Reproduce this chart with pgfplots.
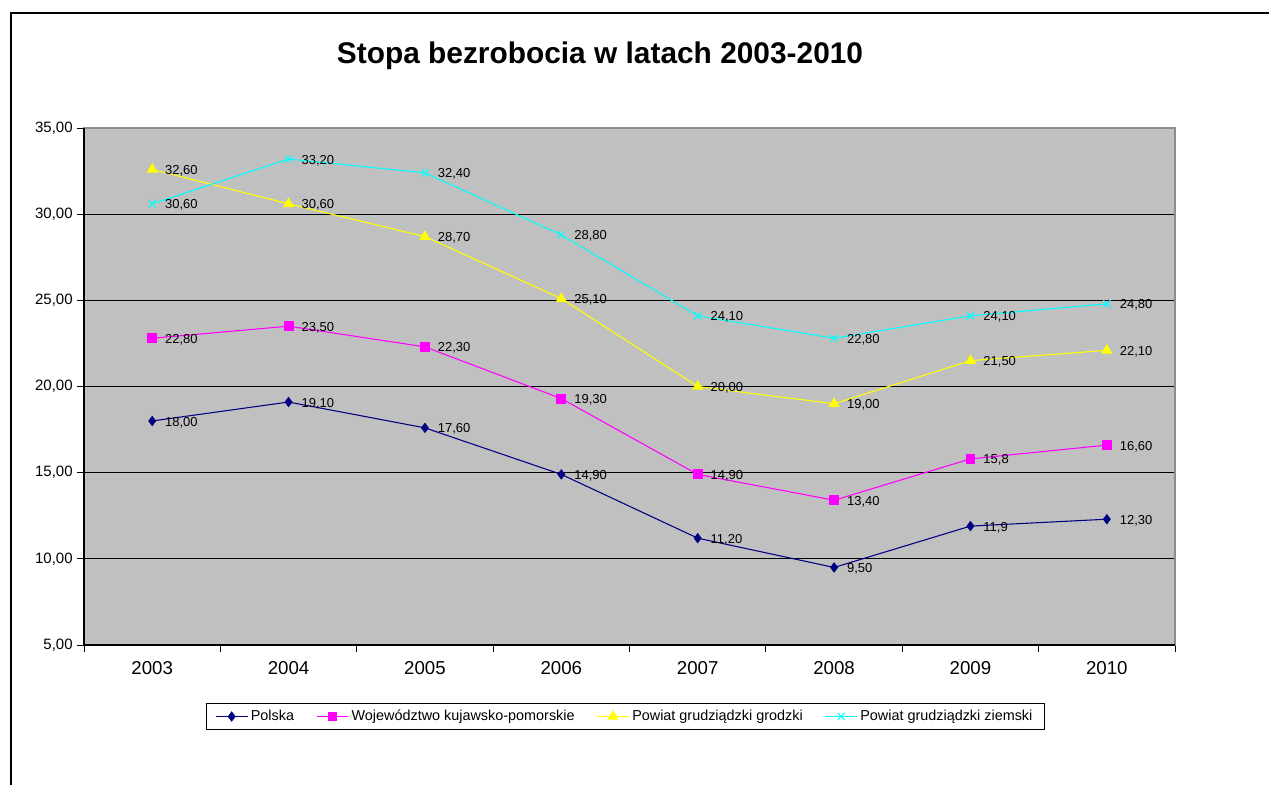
\documentclass[border=0pt]{standalone}
\usepackage{pgfplots}
\pgfplotsset{compat=1.18}
\usepackage{fontspec}
\setmainfont{Liberation Sans}
\definecolor{plotbg}{HTML}{C0C0C0}
\definecolor{cpol}{HTML}{000080}
\definecolor{cwoj}{HTML}{FF00FF}
\definecolor{cgro}{HTML}{FFFF00}
\definecolor{czie}{HTML}{00FFFF}
\begin{document}
\begin{tikzpicture}
\path[use as bounding box] (0,0) rectangle (951.75pt,-588.75pt);
\draw[line width=2.2pt] (8.25pt,-588.75pt) -- (8.25pt,-9.75pt) -- (951.75pt,-9.75pt);
\node[font=\fontsize{22.4}{26}\selectfont\bfseries] at (450pt,-41.5pt) {Stopa bezrobocia w latach 2003-2010};
\begin{axis}[
  at={(63pt,-483.75pt)}, anchor=south west,
  scale only axis, width=818.25pt, height=387.75pt,
  xmin=-0.5, xmax=7.5, ymin=5, ymax=35,
  axis background/.style={fill=plotbg},
  axis line style={draw=gray!90, line width=0.8pt},
  xtick={0,...,7},
  xticklabels={2003,2004,2005,2006,2007,2008,2009,2010},
  major x tick style={draw=none},
  minor xtick={-0.5,0.5,...,7.5},
  minor x tick style={black, line width=0.6pt},
  minor tick length=5pt,
  x tick label style={font=\fontsize{14}{16}\selectfont, yshift=-4pt},
  ytick={5,10,...,35},
  y tick label style={font=\fontsize{11.25}{13}\selectfont},
  yticklabel style={/pgf/number format/.cd, fixed, fixed zerofill, precision=2, use comma, assume math mode=true},
  y tick style={black, line width=0.6pt},
  major tick length=5pt,
  tick align=outside,
  xtick pos=bottom, ytick pos=left,
  ymajorgrids, grid style={black, line width=0.6pt},
  legend columns=4,
  legend style={at={(0.496,-0.1383)}, anchor=center, draw=black, line width=0.5pt,
    font=\fontsize{10.8}{13}\selectfont, inner ysep=3pt, inner xsep=7pt,
    /tikz/every even column/.append style={column sep=14.5pt}},
  legend image code/.code={\draw[mark repeat=2,mark phase=2] plot coordinates {(0cm,0cm) (0.42cm,0cm) (0.84cm,0cm)};},
  legend cell align=left,
  nodes near coords, point meta=explicit symbolic,
  every node near coord/.append style={font=\fontsize{9.75}{11}\selectfont, anchor=west, xshift=6pt, yshift=-1pt, text=black},
  clip=false,
  after end axis/.code={
    \draw[black, line width=0.8pt] (rel axis cs:0,1) -- (rel axis cs:0,0) -- (rel axis cs:1,0);
  },
]
\addplot[cpol, line width=0.8pt, mark=diamond*, mark size=3.3pt, mark options={fill=cpol}] table[meta=l] {
x y l
0 18.0 18,00
1 19.1 19,10
2 17.6 17,60
3 14.9 14,90
4 11.2 11,20
5 9.5 9,50
6 11.9 11,9
7 12.3 12,30
};
\addlegendentry{Polska}
\addplot[cwoj, line width=0.8pt, mark=square*, mark size=3.3pt, mark options={fill=cwoj}] table[meta=l] {
x y l
0 22.8 22,80
1 23.5 23,50
2 22.3 22,30
3 19.3 19,30
4 14.9 14,90
5 13.4 13,40
6 15.8 15,8
7 16.6 16,60
};
\addlegendentry{Województwo kujawsko-pomorskie}
\addplot[cgro, line width=0.8pt, mark=triangle*, mark size=4pt, mark options={fill=cgro}] table[meta=l] {
x y l
0 32.6 32,60
1 30.6 30,60
2 28.7 28,70
3 25.1 25,10
4 20.0 20,00
5 19.0 19,00
6 21.5 21,50
7 22.1 22,10
};
\addlegendentry{Powiat grudziądzki grodzki}
\addplot[czie, line width=0.8pt, mark=x, mark size=3.8pt, mark options={line width=0.8pt}] table[meta=l] {
x y l
0 30.6 30,60
1 33.2 33,20
2 32.4 32,40
3 28.8 28,80
4 24.1 24,10
5 22.8 22,80
6 24.1 24,10
7 24.8 24,80
};
\addlegendentry{Powiat grudziądzki ziemski}
\end{axis}
\end{tikzpicture}
\end{document}
